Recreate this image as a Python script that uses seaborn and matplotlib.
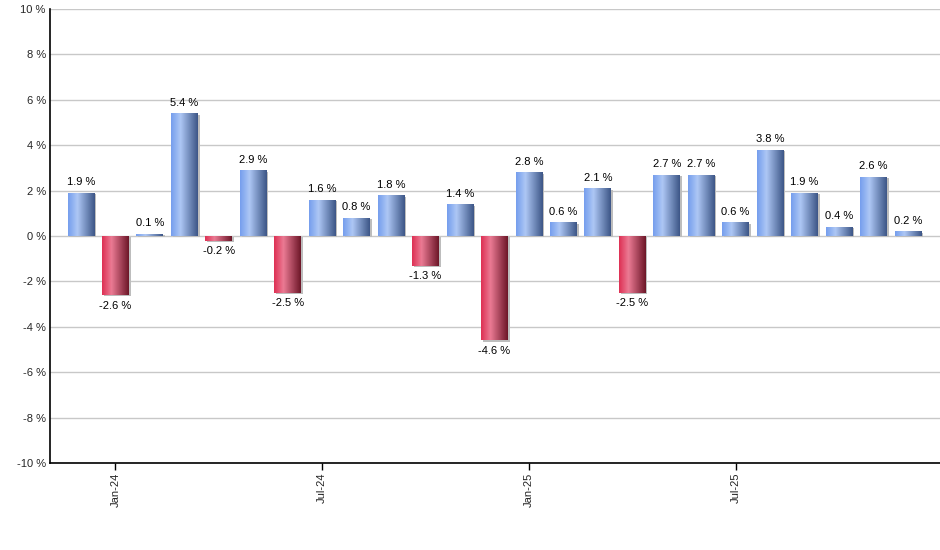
import numpy as np
import pandas as pd
import matplotlib
matplotlib.use("Agg")
import matplotlib.pyplot as plt
import seaborn as sns
from matplotlib.colors import LinearSegmentedColormap

months = ["Dec-23", "Jan-24", "Feb-24", "Mar-24", "Apr-24", "May-24", "Jun-24",
          "Jul-24", "Aug-24", "Sep-24", "Oct-24", "Nov-24", "Dec-24",
          "Jan-25", "Feb-25", "Mar-25", "Apr-25", "May-25", "Jun-25",
          "Jul-25", "Aug-25", "Sep-25", "Oct-25", "Nov-25", "Dec-25"]
returns = [1.9, -2.6, 0.1, 5.4, -0.2, 2.9, -2.5, 1.6, 0.8, 1.8, -1.3, 1.4, -4.6,
           2.8, 0.6, 2.1, -2.5, 2.7, 2.7, 0.6, 3.8, 1.9, 0.4, 2.6, 0.2]
tick_months = ["Jan-24", "Jul-24", "Jan-25", "Jul-25"]
y_ticks = list(range(-10, 11, 2))

sns.set_theme(style="white")
plt.rcParams["font.family"] = ["Liberation Sans", "DejaVu Sans"]

df = pd.DataFrame({"month": months, "ret": returns})

fig = plt.figure(figsize=(9.4, 5.5), dpi=100)
ax = fig.add_axes([50 / 940, 1 - 463 / 550, 890 / 940, (463 - 9) / 550])

sns.barplot(data=df, x="month", y="ret", order=months, ax=ax, width=0.78,
            color="#7aa0e8", saturation=1, zorder=3)

blue = LinearSegmentedColormap.from_list("b", [(0, (0.46, 0.62, 0.93)),
                                             (0.35, (0.68, 0.78, 0.96)),
                                             (1, (0.24, 0.34, 0.53))])
red = LinearSegmentedColormap.from_list("r", [(0, (0.87, 0.19, 0.33)),
                                            (0.35, (0.92, 0.48, 0.58)),
                                            (1, (0.43, 0.09, 0.16))])
grad = np.linspace(0, 1, 64).reshape(1, -1)

ax.set_ylim(-10, 10)
ax.set_xlim(-0.9, len(months) - 1 + 0.93)

for patch, v in zip(ax.patches, returns):
    x0, y0 = patch.get_x(), patch.get_y()
    w, h = patch.get_width(), patch.get_height()
    ybot, ytop = min(y0, y0 + h), max(y0, y0 + h)
    sh = plt.Rectangle((x0 + 0.05, ybot - 0.06), w, ytop - ybot, color="#bdbdbd",
                       zorder=2, lw=0)
    ax.add_patch(sh)
    patch.set_facecolor("none")
    patch.set_edgecolor("none")
    im = ax.imshow(grad, cmap=blue if v >= 0 else red, aspect="auto",
                   extent=[x0, x0 + w, ybot, ytop], zorder=3, interpolation="bilinear")
    im.set_clip_path(patch)
    cx = x0 + w / 2
    if v >= 0:
        ax.annotate(f"{v:.1f} %", (cx, v), xytext=(0, 4), textcoords="offset points",
                    ha="center", va="bottom", fontsize=8, color="#000000", zorder=5)
    else:
        ax.annotate(f"{v:.1f} %", (cx, v), xytext=(0, -4), textcoords="offset points",
                    ha="center", va="top", fontsize=8, color="#000000", zorder=5)

ax.set_xlim(-0.9, len(months) - 1 + 0.93)
ax.set_ylim(-10, 10)
ax.set_yticks(y_ticks)
ax.set_yticklabels([f"{t} %" for t in y_ticks], fontsize=8)
ax.set_xticks([months.index(m) for m in tick_months])
ax.set_xticklabels(tick_months, rotation=90, fontsize=8)
ax.tick_params(axis="x", bottom=True, length=5, width=1, color="black", pad=2)
ax.tick_params(axis="y", left=False, length=0, pad=3)
ax.set_xlabel("")
ax.set_ylabel("")
ax.grid(axis="y", color="#c8c8c8", lw=1, zorder=0)
ax.set_axisbelow(True)
for s in ["top", "right"]:
    ax.spines[s].set_visible(False)
for s in ["left", "bottom"]:
    ax.spines[s].set_color("black")
    ax.spines[s].set_linewidth(1.2)
    ax.spines[s].set_zorder(6)

fig.savefig("out.png", dpi=100)
